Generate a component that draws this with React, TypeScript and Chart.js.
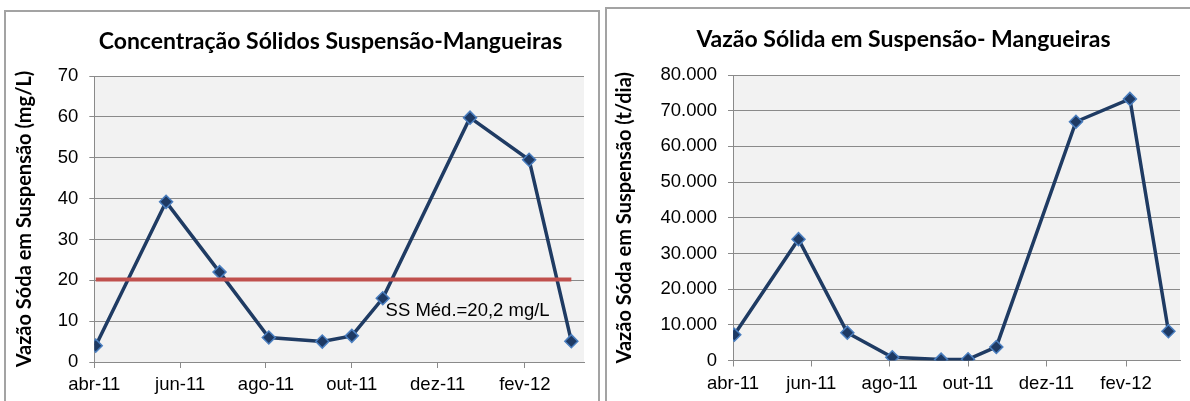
import React, { useEffect, useRef } from 'react';
import { Chart, registerables } from 'chart.js';

Chart.register(...registerables);

// ---------- data ----------
const SAMPLE_DATES = [
  '2011-04-02', '2011-05-22', '2011-06-29', '2011-08-03', '2011-09-10',
  '2011-10-01', '2011-10-23', '2011-12-24', '2012-02-04', '2012-03-05',
];
const CONCENTRATION_MG_L = [4, 39.2, 22, 6, 5, 6.4, 15.6, 59.8, 49.5, 5.1];
const SOLID_FLOW_T_DIA = [7200, 34000, 7800, 900, 250, 350, 3800, 66900, 73300, 8200];
const SS_MEAN = 20.2;
const SS_MEAN_LABEL = 'SS Méd.=20,2 mg/L';

const X_TICK_DATES = ['2011-04-01', '2011-06-01', '2011-08-01', '2011-10-01', '2011-12-01', '2012-02-01'];
const X_TICK_LABELS = ['abr-11', 'jun-11', 'ago-11', 'out-11', 'dez-11', 'fev-12'];
const AXIS_START = '2011-04-01';
const AXIS_END = '2012-03-14';

const TITLE_LEFT = 'Concentração Sólidos Suspensão-Mangueiras';
const TITLE_RIGHT = 'Vazão Sólida em Suspensão- Mangueiras';
const Y_TITLE_LEFT = 'Vazão Sóda em Suspensão (mg/L)';
const Y_TITLE_RIGHT = 'Vazão Sóda em Suspensão (t/dia)';

// ---------- helpers ----------
const BASE = Date.UTC(2011, 3, 1);
const dayOf = (s: string) => {
  const [y, m, d] = s.split('-').map(Number);
  return (Date.UTC(y, m - 1, d) - BASE) / 86400000;
};
const fmtThousands = (v: number) => String(Math.round(v)).replace(/\B(?=(\d{3})+(?!\d))/g, '.');

const NAVY = '#1F3B63';
const MARKER_FILL = '#1E3A64';
const MARKER_EDGE = '#4A7EBF';
const RED = '#C0504D';
const GRID = '#8A8A8A';
const PLOT_BG = '#F2F2F2';
const TICK_FONT = { family: '"Liberation Sans", Arial, sans-serif', size: 18.5 };
const AXIS_TITLE_FONT = { family: 'Lato, "Noto Sans", sans-serif', size: 20, weight: 'bold' as const };
const TITLE_FONT = 'bold 23px Lato, "Noto Sans", sans-serif';

const plotBackground = {
  id: 'plotBackground',
  beforeDraw(chart: any) {
    const { ctx, chartArea } = chart;
    ctx.save();
    ctx.fillStyle = PLOT_BG;
    ctx.fillRect(chartArea.left, chartArea.top, chartArea.right - chartArea.left, chartArea.bottom - chartArea.top);
    ctx.restore();
  },
};

const fixedTitle = (text: string, x: number, y: number) => ({
  id: 'fixedTitle',
  afterDraw(chart: any) {
    const { ctx } = chart;
    ctx.save();
    ctx.font = TITLE_FONT;
    ctx.fillStyle = '#000';
    ctx.textAlign = 'center';
    ctx.textBaseline = 'middle';
    ctx.fillText(text, x, y);
    ctx.restore();
  },
});

const meanLabel = (text: string, date: string, value: number) => ({
  id: 'meanLabel',
  afterDatasetsDraw(chart: any) {
    const { ctx, scales } = chart;
    ctx.save();
    ctx.font = `${TICK_FONT.size}px ${TICK_FONT.family}`;
    ctx.fillStyle = '#000';
    ctx.textAlign = 'left';
    ctx.textBaseline = 'middle';
    ctx.fillText(text, scales.x.getPixelForValue(dayOf(date)), scales.y.getPixelForValue(value));
    ctx.restore();
  },
});

const xScale = (height: number) => ({
  type: 'linear',
  min: dayOf(AXIS_START),
  max: dayOf(AXIS_END),
  afterBuildTicks: (s: any) => {
    s.ticks = X_TICK_DATES.map((d) => ({ value: dayOf(d) }));
  },
  afterFit: (s: any) => {
    s.height = height;
  },
  ticks: {
    autoSkip: false,
    maxRotation: 0,
    minRotation: 0,
    padding: 6,
    color: '#000',
    font: TICK_FONT,
    callback: (v: number) => {
      const i = X_TICK_DATES.findIndex((d) => dayOf(d) === v);
      return i >= 0 ? X_TICK_LABELS[i] : '';
    },
  },
  grid: { drawOnChartArea: false, drawTicks: true, tickLength: 6, color: GRID },
  border: { color: GRID, width: 1 },
});

const yScale = (max: number, step: number, title: string, width: number, fmt?: (v: number) => string) => ({
  min: 0,
  max,
  afterFit: (s: any) => {
    s.width = width;
  },
  ticks: {
    stepSize: step,
    padding: 11,
    color: '#000',
    font: TICK_FONT,
    callback: (v: number) => (fmt ? fmt(v) : String(v)),
  },
  grid: { color: GRID, tickLength: 5, lineWidth: 1 },
  border: { color: GRID, width: 1 },
  title: {
    display: true,
    text: title,
    color: '#000',
    font: AXIS_TITLE_FONT,
    padding: { top: 6, bottom: 0 },
  },
});

const seriesDataset = (values: number[]) => ({
  data: SAMPLE_DATES.map((d, i) => ({ x: dayOf(d), y: values[i] })),
  borderColor: NAVY,
  borderWidth: 3.5,
  tension: 0,
  pointStyle: 'rectRot',
  pointRadius: 6.5,
  pointBackgroundColor: MARKER_FILL,
  pointBorderColor: MARKER_EDGE,
  pointBorderWidth: 1.5,
  order: 1,
});

function leftConfig(): any {
  return {
    type: 'line',
    data: {
      datasets: [
        seriesDataset(CONCENTRATION_MG_L),
        {
          data: [
            { x: dayOf(SAMPLE_DATES[0]), y: SS_MEAN },
            { x: dayOf(SAMPLE_DATES[SAMPLE_DATES.length - 1]), y: SS_MEAN },
          ],
          borderColor: RED,
          borderWidth: 4,
          pointRadius: 0,
          order: 0,
        },
      ],
    },
    options: {
      responsive: false,
      animation: false,
      devicePixelRatio: 1,
      layout: { padding: { top: 64, right: 15, left: 0, bottom: 0 } },
      plugins: { legend: { display: false }, tooltip: { enabled: false }, title: { display: false } },
      scales: {
        x: xScale(48),
        y: yScale(70, 10, Y_TITLE_LEFT, 87.3),
      },
    },
    plugins: [plotBackground, fixedTitle(TITLE_LEFT, 323.5, 30), meanLabel(SS_MEAN_LABEL, '2011-10-25', 12.6)],
  };
}

function rightConfig(): any {
  return {
    type: 'line',
    data: { datasets: [seriesDataset(SOLID_FLOW_T_DIA)] },
    options: {
      responsive: false,
      animation: false,
      devicePixelRatio: 1,
      layout: { padding: { top: 66, right: 10, left: 0, bottom: 0 } },
      plugins: { legend: { display: false }, tooltip: { enabled: false }, title: { display: false } },
      scales: {
        x: xScale(49.5),
        y: yScale(80000, 10000, Y_TITLE_RIGHT, 126, fmtThousands),
      },
    },
    plugins: [plotBackground, fixedTitle(TITLE_RIGHT, 296.5, 31)],
  };
}

function ChartCanvas({ make, width, height, left, top }: { make: () => any; width: number; height: number; left: number; top: number }) {
  const ref = useRef<HTMLCanvasElement>(null);
  useEffect(() => {
    const chart = new Chart(ref.current as HTMLCanvasElement, make());
    return () => chart.destroy();
  }, []);
  return (
    <canvas
      ref={ref}
      width={width}
      height={height}
      style={{ position: 'absolute', left, top, width, height, display: 'block' }}
    />
  );
}

export default function App() {
  return (
    <div style={{ position: 'absolute', left: 0, top: 0, width: 1190, height: 401, overflow: 'hidden', background: '#fff' }}>
      <div
        style={{
          position: 'absolute', left: 4, top: 10, width: 592, height: 420,
          border: '2px solid #a3a3a3', overflow: 'hidden', background: '#fff',
        }}
      >
        <ChartCanvas make={leftConfig} width={592} height={398} left={1} top={0} />
      </div>
      <div
        style={{
          position: 'absolute', left: 605, top: 7, width: 620, height: 420,
          border: '2px solid #a3a3a3', overflow: 'hidden', background: '#fff',
        }}
      >
        <ChartCanvas make={rightConfig} width={583} height={401} left={0} top={0} />
      </div>
    </div>
  );
}
